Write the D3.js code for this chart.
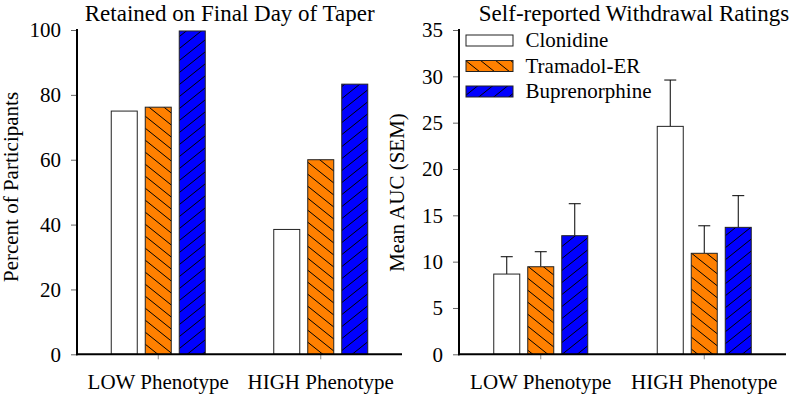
<!DOCTYPE html>
<html><head><meta charset="utf-8">
<script src="https://cdn.jsdelivr.net/npm/d3@7"></script>
<style>
html,body{margin:0;padding:0;background:#fff;}
svg text{font-family:"Liberation Serif","Times New Roman",serif !important;fill:#000;}
</style></head>
<body><svg id="chart" width="800" height="396" font-family="Liberation Serif"></svg>
<script>
const groups = ["LOW Phenotype", "HIGH Phenotype"];
const series = ["Clonidine", "Tramadol-ER", "Buprenorphine"];
// Retained on final day of taper (% participants), per group: [Clonidine, Tramadol-ER, Buprenorphine]
const retainedLow = [75, 76.2, 99.7];
const retainedHigh = [38.5, 60, 83.3];
// Self-reported withdrawal ratings, mean AUC and SEM
const aucLow = [8.66, 9.45, 12.8];
const aucHigh = [24.6, 10.9, 13.7];
const semLow = [1.87, 1.62, 3.45];
const semHigh = [5.0, 2.97, 3.42];
const leftTicks = [0, 20, 40, 60, 80, 100];
const rightTicks = [0, 5, 10, 15, 20, 25, 30, 35];

const FONT = "'Liberation Serif', 'Times New Roman', serif";
const svg = d3.select("#chart");
const fills = {"Clonidine": "#ffffff", "Tramadol-ER": "url(#hatchBack)", "Buprenorphine": "url(#hatchFwd)"};

const defs = svg.append("defs");
function makePattern(id, color, d) {
  const p = defs.append("pattern").attr("id", id).attr("patternUnits", "userSpaceOnUse")
    .attr("width", 15).attr("height", 12);
  p.append("rect").attr("width", 15).attr("height", 12).attr("fill", color);
  p.append("path").attr("d", d).attr("stroke", "#000").attr("stroke-width", 1).attr("fill", "none");
}
makePattern("hatchBack", "#ff8000", "M-2,-1.6 L17,13.6 M-2,10.4 L2,13.6 M13,-1.6 L17,1.6");
makePattern("hatchFwd", "#0000ff", "M-2,13.6 L17,-1.6 M-2,1.6 L2,-1.6 M13,13.6 L17,10.4");

const baseY = 354.3, topY = 30;

function panel(cfg) {
  const g = svg.append("g");
  const x0 = d3.scaleBand().domain(groups).range([cfg.x0, cfg.x1]).paddingInner(0).paddingOuter(0);
  const x1 = d3.scaleBand().domain(series).range([-47.5, 47.5]).paddingInner(7/34).paddingOuter(0);
  const y = d3.scaleLinear().domain([0, cfg.max]).range([baseY, topY]);

  const rows = [];
  groups.forEach((grp, gi) => {
    series.forEach((s, si) => {
      rows.push({grp, s, v: cfg.vals[gi][si], e: cfg.errs ? cfg.errs[gi][si] : null});
    });
  });

  if (cfg.errs) {
    const eb = g.append("g");
    rows.forEach(r => {
      const cx = x0(r.grp) + x0.bandwidth()/2 + x1(r.s) + x1.bandwidth()/2;
      eb.append("line").attr("x1", cx).attr("x2", cx).attr("y1", y(r.v)).attr("y2", y(r.v + r.e))
        .attr("stroke", "#000").attr("stroke-width", 1);
      eb.append("line").attr("x1", cx - 6).attr("x2", cx + 6).attr("y1", y(r.v + r.e)).attr("y2", y(r.v + r.e))
        .attr("stroke", "#000").attr("stroke-width", 1);
    });
  }

  g.selectAll("rect.bar").data(rows).join("rect").attr("class", "bar")
    .attr("x", d => x0(d.grp) + x0.bandwidth()/2 + x1(d.s) + 0.5)
    .attr("width", x1.bandwidth() - 1)
    .attr("y", d => y(d.v))
    .attr("height", d => y(0) - y(d.v))
    .attr("fill", d => fills[d.s])
    .attr("stroke", "#222").attr("stroke-width", 1);

  const ya = g.append("g").attr("transform", `translate(${cfg.x0},0)`)
    .call(d3.axisLeft(y).tickValues(cfg.ticks).tickSize(6).tickSizeOuter(0).tickPadding(10));
  ya.attr("font-family", null).attr("font-size", null);
  ya.select(".domain").remove();
  ya.selectAll(".tick line").attr("stroke", "#666");
  ya.selectAll(".tick text").style("font-family", FONT).style("font-size", "21px").attr("dy", "0.33em");
  g.append("line").attr("x1", cfg.x0).attr("x2", cfg.x0).attr("y1", topY - 1).attr("y2", baseY + 1)
    .attr("stroke", "#000").attr("stroke-width", 2);

  const xa = g.append("g").attr("transform", `translate(0,${baseY})`)
    .call(d3.axisBottom(x0).tickSize(5).tickSizeOuter(0).tickPadding(15));
  xa.attr("font-family", null).attr("font-size", null);
  xa.select(".domain").remove();
  xa.selectAll(".tick line").attr("stroke", "#888");
  xa.selectAll(".tick text").style("font-family", FONT).style("font-size", "21px");
  g.append("line").attr("x1", cfg.x0 - 1).attr("x2", cfg.x1).attr("y1", baseY).attr("y2", baseY)
    .attr("stroke", "#000").attr("stroke-width", 2);

  g.append("text").attr("x", cfg.tx).attr("y", 20.5).attr("text-anchor", "middle")
    .style("font-family", FONT).style("font-size", "23px").text(cfg.title);
  g.append("text").attr("transform", `translate(${cfg.lx},${cfg.ly}) rotate(-90)`)
    .attr("text-anchor", "middle").style("font-family", FONT).style("font-size", "21px").text(cfg.ylabel);
  return {x0, x1, y};
}

panel({x0: 77, x1: 402, max: 100, ticks: leftTicks, vals: [retainedLow, retainedHigh],
  title: "Retained on Final Day of Taper", tx: 229.7, ylabel: "Percent of Participants", lx: 18, ly: 187});
panel({x0: 459, x1: 786, max: 35, ticks: rightTicks, vals: [aucLow, aucHigh], errs: [semLow, semHigh],
  title: "Self-reported Withdrawal Ratings", tx: 634, ylabel: "Mean AUC (SEM)", lx: 404, ly: 192.5});

const leg = svg.append("g");
series.forEach((s, i) => {
  const yy = 35 + i * 25.5;
  leg.append("rect").attr("x", 466).attr("y", yy).attr("width", 47).attr("height", 11)
    .attr("fill", fills[s]).attr("stroke", "#222").attr("stroke-width", 1);
  leg.append("text").attr("x", 525.5).attr("y", yy + 12).style("font-family", FONT).style("font-size", "21px").text(s);
});
</script></body></html>
